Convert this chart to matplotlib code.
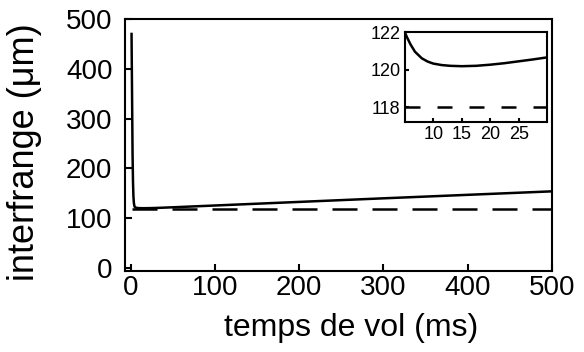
import numpy as np
import matplotlib
matplotlib.use('Agg')
import matplotlib.pyplot as plt

plt.rcParams['font.family'] = ['Liberation Sans', 'DejaVu Sans']

# Time of flight (ms) and fringe spacing (um)
t_ms = [0.8, 1.5, 2.0, 2.5, 3.0, 3.5, 4.0, 4.5, 5.0, 5.4, 6.0, 6.8, 8.0, 9.0, 10.0,
        11.5, 13.0, 15.0, 17.5, 20.0, 22.5, 25.0, 27.5, 30.0,
        50.0, 100.0, 200.0, 300.0, 400.0, 500.0]
interfrange = [470, 330, 230, 175, 145, 132, 126, 123.0, 122.0, 121.72, 121.35, 120.95,
               120.6, 120.43, 120.32, 120.24, 120.2, 120.18, 120.2, 120.26, 120.34,
               120.44, 120.54, 120.65, 122.0, 125.6, 132.8, 140.0, 147.0, 154.0]
limite = 118.0

main_ticks_x = [0, 100, 200, 300, 400, 500]
main_ticks_y = [0, 100, 200, 300, 400, 500]
inset_ticks_x = [10, 15, 20, 25]
inset_ticks_y = [118, 120, 122]

fig = plt.figure(figsize=(5.84, 3.52), dpi=100)
ax = fig.add_axes([0.214, 0.230, 0.731, 0.716])

ax.plot(t_ms, interfrange, color='black', lw=1.8)
ax.plot([t_ms[0], 500], [limite, limite], color='black', lw=1.8, dashes=(10, 6))
ax.set_xlim(-7, 500)
ax.set_ylim(-6, 500)
ax.set_xticks(main_ticks_x)
ax.set_yticks(main_ticks_y)
ax.tick_params(direction='in', length=5, width=1.5, labelsize=20)
ax.tick_params(axis='x', pad=3)
ax.tick_params(axis='y', pad=9)
for s in ax.spines.values():
    s.set_linewidth(1.5)
ax.set_xlabel('temps de vol (ms)', fontsize=23)
ax.xaxis.set_label_coords(0.53, -0.165)
ax.set_ylabel('interfrange (\u03bcm)', fontsize=26)
ax.yaxis.set_label_coords(-0.194, 0.472)

# Inset zoom on the minimum
axi = fig.add_axes([0.693, 0.653, 0.244, 0.256])
axi.plot(t_ms, interfrange, color='black', lw=1.8)
axi.axhline(limite, color='black', lw=1.8, dashes=(6, 6.8))
axi.set_xlim(5, 30)
axi.set_ylim(117.2, 121.9)
axi.set_xticks(inset_ticks_x)
axi.set_yticks(inset_ticks_y)
axi.tick_params(direction='in', length=3, width=1.5, labelsize=13, pad=3)
for s in axi.spines.values():
    s.set_linewidth(1.5)

fig.savefig('out.png', dpi=100)
